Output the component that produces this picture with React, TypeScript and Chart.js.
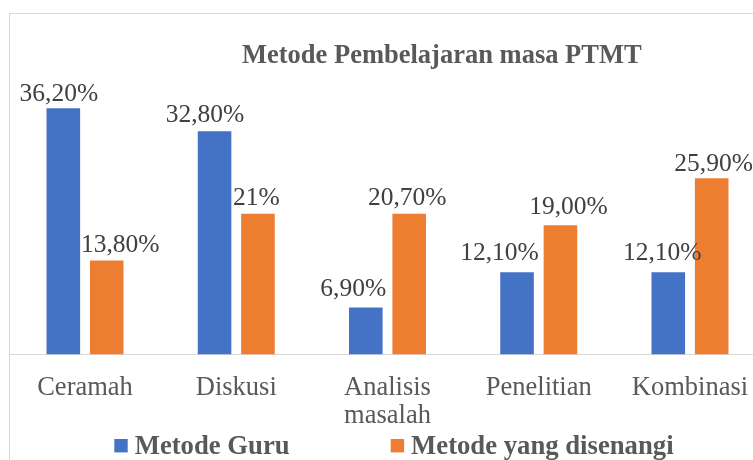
import React, { useEffect, useRef } from "react";
import { Chart, registerables } from "chart.js";

Chart.register(...registerables);

// ---- data ----
const categories: string[][] = [["Ceramah"], ["Diskusi"], ["Analisis", "masalah"], ["Penelitian"], ["Kombinasi"]];
const seriesNames = ["Metode Guru", "Metode yang disenangi"];
const guruValues = [36.2, 32.8, 6.9, 12.1, 12.1];
const disenangiValues = [13.8, 20.7, 20.7, 19.0, 25.9];
const guruLabels = ["36,20%", "32,80%", "6,90%", "12,10%", "12,10%"];
const disenangiLabels = ["13,80%", "21%", "20,70%", "19,00%", "25,90%"];
const chartTitle = "Metode Pembelajaran masa PTMT";

// ---- styling / layout ----
const COLORS = ["#4472C4", "#ED7D31"];
const FONT = "'Liberation Serif', 'Times New Roman', serif";
const labelShiftX = [
  [-4.5, -9.5, -12.5, -17.5, -6],
  [13.5, -1.5, -2, 8, 2],
];
const labelLift = [
  [7, 9, 12, 12, 12],
  [9, 9, 9, 11, 7],
];
const legendX = [114.3, 390.7];

const framePlugin = {
  id: "frame",
  beforeDraw(chart: any) {
    const ctx = chart.ctx;
    ctx.save();
    ctx.fillStyle = "#ffffff";
    ctx.fillRect(0, 0, chart.width, chart.height);
    ctx.strokeStyle = "#d9d9d9";
    ctx.lineWidth = 1;
    ctx.strokeRect(9.5, 13.5, 3000, 3000);
    ctx.restore();
  },
};

const valueLabelPlugin = {
  id: "valueLabels",
  afterDatasetsDraw(chart: any) {
    const ctx = chart.ctx;
    const allLabels = [guruLabels, disenangiLabels];
    ctx.save();
    ctx.font = `25.5px ${FONT}`;
    ctx.fillStyle = "#404040";
    ctx.textAlign = "center";
    ctx.textBaseline = "alphabetic";
    chart.data.datasets.forEach((_: any, i: number) => {
      const meta = chart.getDatasetMeta(i);
      meta.data.forEach((bar: any, j: number) => {
        ctx.fillText(allLabels[i][j], bar.x + labelShiftX[i][j], bar.y - labelLift[i][j]);
      });
    });
    ctx.restore();
  },
};

const titleLegendPlugin = {
  id: "titleLegend",
  afterDraw(chart: any) {
    const ctx = chart.ctx;
    ctx.save();
    ctx.fillStyle = "#595959";
    ctx.font = `bold 26.5px ${FONT}`;
    ctx.textAlign = "left";
    ctx.textBaseline = "alphabetic";
    ctx.fillText(chartTitle, 242, 63.3);

    ctx.font = `bold 26.7px ${FONT}`;
    chart.data.datasets.forEach((ds: any, i: number) => {
      const x = legendX[i];
      ctx.fillStyle = ds.backgroundColor;
      ctx.fillRect(x, 439, 13.4, 13.4);
      ctx.fillStyle = "#595959";
      ctx.fillText(ds.label, x + 13.4 + 7, 453.5);
    });
    ctx.restore();
  },
};

export default function App() {
  const ref = useRef<HTMLCanvasElement | null>(null);

  useEffect(() => {
    if (!ref.current) return;
    const chart = new Chart(ref.current, {
      type: "bar",
      data: {
        labels: categories,
        datasets: [
          {
            label: seriesNames[0],
            data: guruValues,
            backgroundColor: COLORS[0],
            categoryPercentage: 0.574,
            barPercentage: 0.774,
          },
          {
            label: seriesNames[1],
            data: disenangiValues,
            backgroundColor: COLORS[1],
            categoryPercentage: 0.574,
            barPercentage: 0.774,
          },
        ],
      },
      options: {
        responsive: false,
        animation: false,
        devicePixelRatio: 1,
        layout: { padding: { left: 9.4, right: 34.4, top: 82.3, bottom: 0 } },
        plugins: {
          legend: { display: false },
          title: { display: false },
          tooltip: { enabled: false },
        },
        scales: {
          x: {
            grid: { display: false },
            border: { display: true, color: "#d9d9d9", width: 1 },
            ticks: {
              color: "#595959",
              font: { family: FONT, size: 26.5, lineHeight: 1.057 },
              padding: 12,
              maxRotation: 0,
              autoSkip: false,
            },
            afterFit: (scale: any) => {
              scale.height = 105.5;
            },
          },
          y: {
            display: false,
            min: 0,
            max: 40,
          },
        },
      },
      plugins: [framePlugin, valueLabelPlugin, titleLegendPlugin],
    });
    return () => chart.destroy();
  }, []);

  return (
    <div
      style={{
        position: "fixed",
        left: 0,
        top: 0,
        width: 753,
        height: 460,
        overflow: "hidden",
        background: "#ffffff",
      }}
    >
      <canvas ref={ref} width={800} height={460} style={{ display: "block", width: 800, height: 460 }} />
    </div>
  );
}
